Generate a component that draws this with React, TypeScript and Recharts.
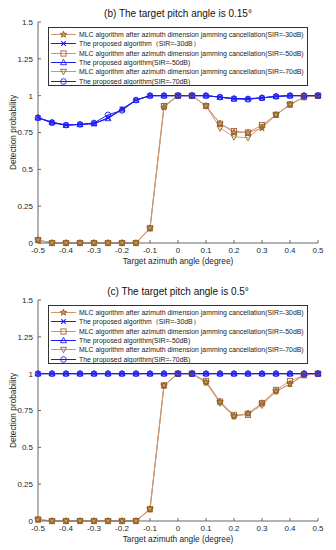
import React from 'react';
import { LineChart, Line, XAxis, YAxis, Legend } from 'recharts';

const azimuth = [-0.5, -0.45, -0.4, -0.35, -0.3, -0.25, -0.2, -0.15, -0.1, -0.05, 0, 0.05, 0.1, 0.15, 0.2, 0.25, 0.3, 0.35, 0.4, 0.45, 0.5];
const xTicks = [-0.5, -0.4, -0.3, -0.2, -0.1, 0, 0.1, 0.2, 0.3, 0.4, 0.5];
const yTicks = [0, 0.25, 0.5, 0.75, 1, 1.25, 1.5];

// (b) pitch 0.15°
const b_mlc30 = [0.02, 0, 0, 0, 0, 0, 0, 0, 0.1, 0.92, 1, 1, 0.93, 0.81, 0.75, 0.75, 0.78, 0.87, 0.94, 0.99, 1];
const b_prop30 = [0.85, 0.82, 0.8, 0.805, 0.81, 0.85, 0.91, 0.97, 1, 1, 1, 1, 1, 0.99, 0.98, 0.98, 0.985, 0.995, 1, 1, 1];
const b_mlc50 = [0.02, 0, 0, 0, 0, 0, 0, 0, 0.1, 0.93, 1, 1, 0.93, 0.81, 0.76, 0.75, 0.8, 0.87, 0.94, 0.99, 1];
const b_prop50 = [0.85, 0.82, 0.8, 0.805, 0.81, 0.845, 0.905, 0.97, 1, 1, 1, 1, 1, 0.99, 0.978, 0.978, 0.985, 0.995, 1, 1, 1];
const b_mlc70 = [0.02, 0, 0, 0, 0, 0, 0, 0, 0.1, 0.93, 1, 1, 0.93, 0.78, 0.72, 0.715, 0.79, 0.87, 0.94, 0.99, 1];
const b_prop70 = [0.85, 0.815, 0.8, 0.805, 0.815, 0.87, 0.9, 0.97, 1, 1, 1, 1, 1, 0.99, 0.98, 0.975, 0.985, 0.995, 1, 1, 1];

// (c) pitch 0.5°
const c_mlc30 = [0.01, 0, 0, 0, 0, 0, 0, 0, 0.08, 0.92, 1, 1, 0.94, 0.81, 0.71, 0.73, 0.8, 0.88, 0.93, 0.99, 1];
const c_prop30 = [1, 1, 1, 1, 1, 1, 1, 1, 1, 1, 1, 1, 1, 1, 1, 1, 1, 1, 1, 1, 1];
const c_mlc50 = [0.01, 0, 0, 0, 0, 0, 0, 0, 0.08, 0.92, 1, 1, 0.95, 0.81, 0.72, 0.72, 0.8, 0.89, 0.95, 0.99, 1];
const c_prop50 = [1, 1, 1, 1, 1, 1, 1, 1, 1, 1, 1, 1, 1, 1, 1, 1, 1, 1, 1, 1, 1];
const c_mlc70 = [0.01, 0, 0, 0, 0, 0, 0, 0, 0.08, 0.92, 1, 1, 0.94, 0.8, 0.71, 0.73, 0.785, 0.88, 0.93, 0.99, 1];
const c_prop70 = [1, 1, 1, 1, 1, 1, 1, 1, 1, 1, 1, 1, 1, 1, 1, 1, 1, 1, 1, 1, 1];

const FONT = '"Liberation Sans", Arial, sans-serif';
const AXIS = '#666';
const TEXT = '#262626';
const MLC_LINE = '#c9956f';
const BLUE = '#1c1cf2';

const seriesDefs = [
  { key: 'mlc30', name: 'MLC algorithm after azimuth dimension jamming cancellation(SIR=-30dB)', line: MLC_LINE, color: '#9c5a2a', shape: 'star' },
  { key: 'prop30', name: 'The proposed algorithm\uFF08SIR=-30dB\uFF09', line: BLUE, color: BLUE, shape: 'x' },
  { key: 'mlc50', name: 'MLC algorithm after azimuth dimension jamming cancellation(SIR=-50dB)', line: MLC_LINE, color: '#a8603a', shape: 'square' },
  { key: 'prop50', name: 'The proposed algorithm(SIR=-50dB)', line: BLUE, color: BLUE, shape: 'triUp' },
  { key: 'mlc70', name: 'MLC algorithm after azimuth dimension jamming cancellation(SIR=-70dB)', line: MLC_LINE, color: '#86661e', shape: 'triDown' },
  { key: 'prop70', name: 'The proposed algorithm(SIR=-70dB)', line: BLUE, color: BLUE, shape: 'circle' },
];

function Marker({ shape, cx, cy, color }: { shape: string; cx: number; cy: number; color: string }) {
  const sw = 0.9;
  if (shape === 'star') {
    const pts: string[] = [];
    for (let i = 0; i < 10; i++) {
      const r = i % 2 === 0 ? 3.4 : 1.4;
      const a = -Math.PI / 2 + (i * Math.PI) / 5;
      pts.push(`${cx + r * Math.cos(a)},${cy + r * Math.sin(a)}`);
    }
    return <polygon points={pts.join(' ')} fill="#c8a060" stroke={color} strokeWidth={sw} />;
  }
  if (shape === 'x') {
    return (
      <g stroke={color} strokeWidth={1.1}>
        <line x1={cx - 2.3} y1={cy - 2.3} x2={cx + 2.3} y2={cy + 2.3} />
        <line x1={cx - 2.3} y1={cy + 2.3} x2={cx + 2.3} y2={cy - 2.3} />
      </g>
    );
  }
  if (shape === 'square') {
    return <rect x={cx - 2.6} y={cy - 2.6} width={5.2} height={5.2} fill="none" stroke={color} strokeWidth={sw} />;
  }
  if (shape === 'triUp') {
    return <polygon points={`${cx},${cy - 3.2} ${cx + 3},${cy + 2.2} ${cx - 3},${cy + 2.2}`} fill="none" stroke={color} strokeWidth={sw} />;
  }
  if (shape === 'triDown') {
    return <polygon points={`${cx},${cy + 3.2} ${cx + 3},${cy - 2.2} ${cx - 3},${cy - 2.2}`} fill="none" stroke={color} strokeWidth={sw} />;
  }
  return <circle cx={cx} cy={cy} r={2.8} fill="none" stroke={color} strokeWidth={sw} />;
}

function LegendBox() {
  return (
    <div
      style={{
        background: '#fff',
        border: '0.8px solid #333',
        width: 260,
        height: 59,
        boxSizing: 'border-box',
        padding: '2px 0 0 0',
        fontFamily: FONT,
        fontSize: 6.9,
        color: '#1a1a1a',
      }}
    >
      {seriesDefs.map((s) => (
        <div key={s.key} style={{ display: 'flex', alignItems: 'center', height: 9.3, whiteSpace: 'nowrap' }}>
          <svg width={29} height={9} style={{ flex: 'none' }}>
            <line x1={2} y1={4.5} x2={27} y2={4.5} stroke={s.line} strokeWidth={1} />
            <Marker shape={s.shape} cx={14.5} cy={4.5} color={s.color} />
          </svg>
          <span style={{ marginLeft: 1 }}>{s.name}</span>
        </div>
      ))}
    </div>
  );
}

function Panel({ title, columns, top }: { title: string; columns: number[][]; top: number }) {
  const rows = azimuth.map((x, i) => {
    const row: Record<string, number> = { x };
    seriesDefs.forEach((s, j) => {
      row[s.key] = columns[j][i];
    });
    return row;
  });

  return (
    <div style={{ position: 'absolute', left: 0, top, width: 336, height: 272 }}>
      <div
        style={{
          position: 'absolute',
          left: 38,
          width: 280,
          top: 8,
          textAlign: 'center',
          fontFamily: FONT,
          fontSize: 10,
          color: '#111',
          zIndex: 2,
        }}
      >
        {title}
      </div>
      <LineChart width={336} height={272} data={rows} margin={{ top: 22, right: 18, left: 0, bottom: 0 }}>
        <XAxis
          dataKey="x"
          type="number"
          domain={[-0.5, 0.5]}
          ticks={xTicks}
          tickFormatter={(v: number) => String(Math.round(v * 10) / 10)}
          tick={{ fontSize: 8, fill: TEXT, fontFamily: FONT }}
          tickSize={-3}
          tickMargin={7}
          stroke={AXIS}
          height={29}
          label={{ value: 'Target azimuth angle (degree)', position: 'insideBottom', offset: 8, fontSize: 8.3, fill: TEXT, fontFamily: FONT }}
        />
        <XAxis
          xAxisId="top"
          orientation="top"
          type="number"
          domain={[-0.5, 0.5]}
          ticks={xTicks}
          tickFormatter={() => ''}
          tickSize={-3}
          stroke={AXIS}
          height={0}
        />
        <YAxis
          type="number"
          domain={[0, 1.5]}
          ticks={yTicks}
          tick={{ fontSize: 8, fill: TEXT, fontFamily: FONT }}
          tickSize={-3}
          tickMargin={8}
          stroke={AXIS}
          width={38}
          label={{
            content: (p: any) => {
              const vb = p.viewBox || { x: 0, y: 22, width: 38, height: 221 };
              const cx = 13;
              const cy = vb.y + vb.height / 2;
              return (
                <text x={cx} y={cy} transform={`rotate(-90 ${cx} ${cy})`} textAnchor="middle" dominantBaseline="central" fontSize={8.3} fill={TEXT} fontFamily={FONT}>
                  Detection probability
                </text>
              );
            },
          }}
        />
        <YAxis
          yAxisId="right"
          orientation="right"
          type="number"
          domain={[0, 1.5]}
          ticks={yTicks}
          tickFormatter={() => ''}
          tickSize={-3}
          stroke={AXIS}
          width={0}
        />
        {seriesDefs.map((s) => (
          <Line
            key={s.key}
            dataKey={s.key}
            name={s.name}
            stroke={s.line}
            strokeWidth={s.line === BLUE ? 1 : 0.9}
            isAnimationActive={false}
            activeDot={false}
            dot={(p: any) => <Marker key={`${s.key}-${p.index}`} shape={s.shape} cx={p.cx} cy={p.cy} color={s.color} />}
          />
        ))}
        <Legend
          layout="vertical"
          align="center"
          verticalAlign="middle"
          wrapperStyle={{ left: 48, top: 27, width: 260, height: 59 }}
          content={() => <LegendBox />}
        />
      </LineChart>
    </div>
  );
}

export default function App() {
  return (
    <div style={{ position: 'absolute', left: 0, top: 0, width: 336, height: 550, background: '#fff' }}>
      <Panel title="(b) The target pitch angle is 0.15°" columns={[b_mlc30, b_prop30, b_mlc50, b_prop50, b_mlc70, b_prop70]} top={0} />
      <Panel title="(c) The target pitch angle is 0.5°" columns={[c_mlc30, c_prop30, c_mlc50, c_prop50, c_mlc70, c_prop70]} top={278} />
    </div>
  );
}
